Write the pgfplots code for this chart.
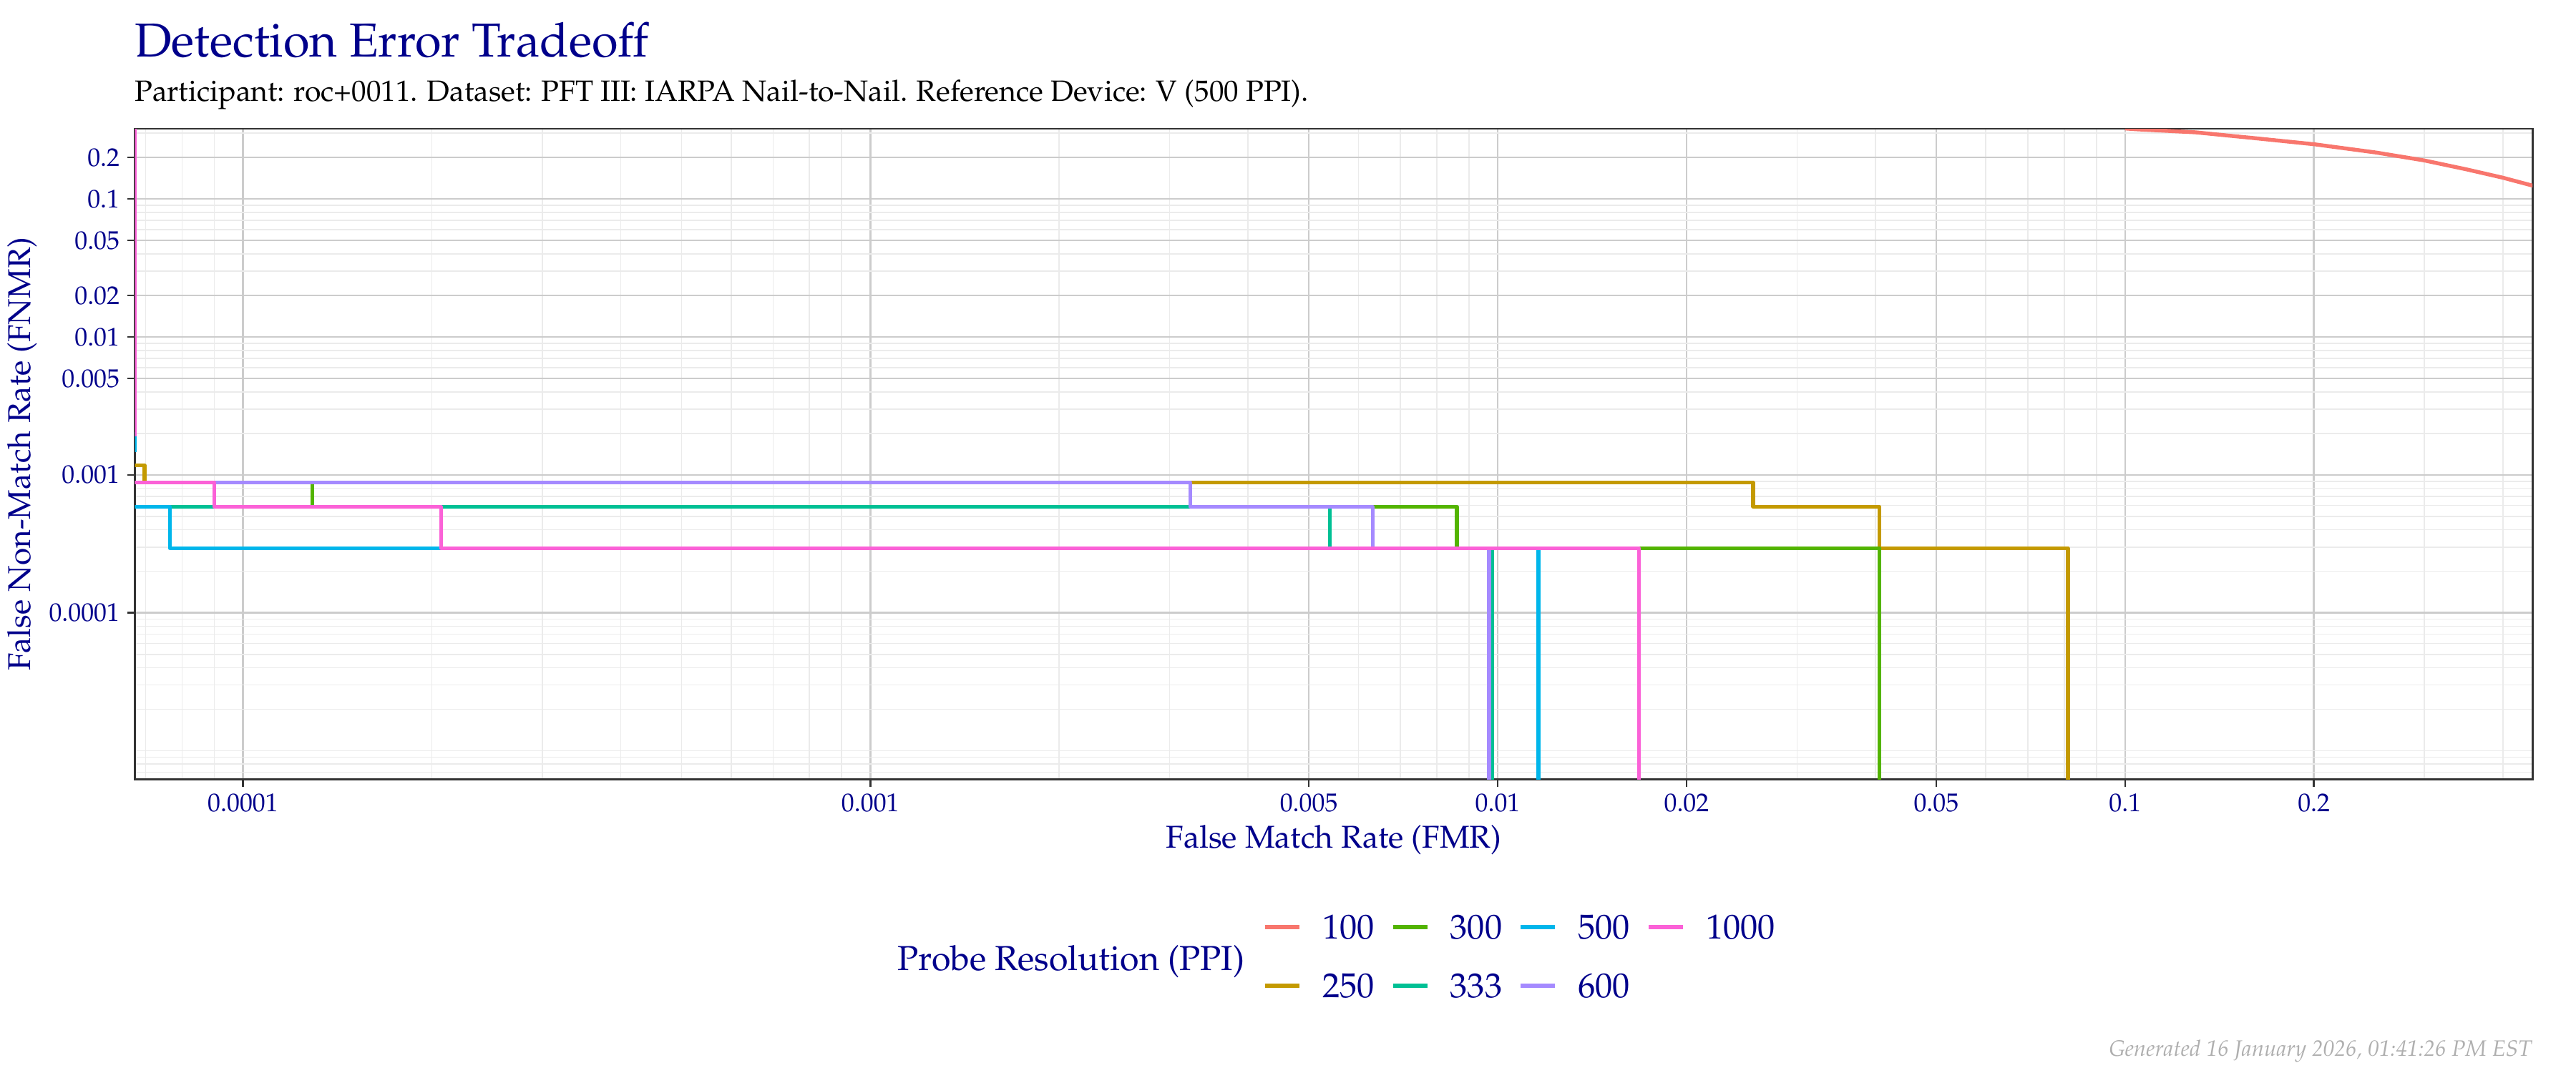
\documentclass[border=0pt]{standalone}
\usepackage[T1]{fontenc}
\usepackage{mathpazo}
\usepackage{pgfplots}
\pgfplotsset{compat=1.18}

\definecolor{c100}{HTML}{F8766D}
\definecolor{c250}{HTML}{C49A00}
\definecolor{c300}{HTML}{53B400}
\definecolor{c333}{HTML}{00C094}
\definecolor{c500}{HTML}{00B6EB}
\definecolor{c600}{HTML}{A58AFF}
\definecolor{c1000}{HTML}{FB61D7}
\definecolor{navy}{RGB}{0,0,139}
\definecolor{gridmaj}{RGB}{204,204,204}
\definecolor{gridmin}{RGB}{235,235,235}
\definecolor{frame}{RGB}{51,51,51}
\definecolor{foot}{RGB}{175,175,175}

\begin{document}
\begin{tikzpicture}
\path[use as bounding box] (0,0) rectangle (864bp,360bp);

\node[anchor=base west, inner sep=0pt, text=navy, font=\fontsize{16bp}{19bp}\selectfont]
  at (45bp,341bp) {Detection Error Tradeoff};
\node[anchor=base west, inner sep=0pt, text=black, font=\fontsize{9.85bp}{12bp}\selectfont]
  at (45bp,326bp) {Participant: roc+0011. Dataset: PFT III: IARPA Nail-to-Nail. Reference Device: V (500 PPI).};

\begin{axis}[
  at={(45.3bp,98.6bp)}, anchor=south west, scale only axis,
  width=804.1bp, height=218.2bp,
  xmode=log, ymode=log,
  xmin=6.73e-5, xmax=0.446, ymin=6.23e-6, ymax=0.323,
  xtick={1e-4,1e-3,5e-3,1e-2,2e-2,5e-2,0.1,0.2},
  xticklabels={0.0001,0.001,0.005,0.01,0.02,0.05,0.1,0.2},
  ytick={1e-4,1e-3,5e-3,1e-2,2e-2,5e-2,0.1,0.2},
  yticklabels={0.0001,0.001,0.005,0.01,0.02,0.05,0.1,0.2},
  minor xtick={7e-5,8e-5,9e-5,2e-4,3e-4,4e-4,5e-4,6e-4,7e-4,8e-4,9e-4,
    2e-3,3e-3,4e-3,6e-3,7e-3,8e-3,9e-3,3e-2,4e-2,6e-2,7e-2,8e-2,9e-2,0.3,0.4},
  minor ytick={7e-6,8e-6,9e-6,1e-5,2e-5,3e-5,4e-5,5e-5,6e-5,7e-5,8e-5,9e-5,
    2e-4,3e-4,4e-4,5e-4,6e-4,7e-4,8e-4,9e-4,2e-3,3e-3,4e-3,6e-3,7e-3,8e-3,9e-3,
    3e-2,4e-2,6e-2,7e-2,8e-2,9e-2,0.3},
  grid=both,
  major grid style={gridmaj, line width=0.6bp},
  minor grid style={gridmin, line width=0.4bp},
  tick pos=left,
  tick align=outside, major tick length=2.6bp, minor tick length=0pt,
  tick style={frame, line width=0.6bp},
  axis line style={frame, line width=0.7bp},
  ticklabel style={font=\fontsize{8.6bp}{10bp}\selectfont, text=navy, inner sep=0pt},
  xticklabel style={anchor=north, yshift=-2.2bp},
  yticklabel style={anchor=east, xshift=-2.4bp},
  xlabel={False Match Rate (FMR)},
  ylabel={False Non-Match Rate (FNMR)},
  every axis x label/.style={at={(axis description cs:0.5,-0.1063)}, anchor=base,
    font=\fontsize{10.6bp}{12bp}\selectfont, text=navy, inner sep=0pt},
  every axis y label/.style={at={(axis description cs:-0.04365,0.5)}, anchor=base, rotate=90,
    font=\fontsize{10.6bp}{12bp}\selectfont, text=navy, inner sep=0pt},
  legend style={at={(axis description cs:0.4704,-0.2086)}, anchor=north west,
    draw=none, fill=none, inner sep=0pt, outer sep=0pt,
    font=\fontsize{11.6bp}{14bp}\selectfont, text=navy,
    row sep=11.6bp,
    nodes={inner sep=0pt, text height=8.1bp, text depth=0pt},
    /tikz/every odd column/.append style={column sep=7bp},
    /tikz/every even column/.append style={column sep=5.5bp}},
  legend cell align=left,
  transpose legend, legend columns=2,
  legend image code/.code={\draw[#1, line width=1.5bp] (0bp,0bp) -- (11.5bp,0bp);},
  every axis plot/.append style={line width=1.3bp, line join=round},
]

% 100 PPI
\addplot[c100] coordinates {
  (0.1,0.3245) (0.1038,0.3205) (0.1295,0.3043) (0.1615,0.2756) (0.2003,0.2493)
  (0.2513,0.2172) (0.2998,0.1904) (0.3499,0.1641) (0.3996,0.1429) (0.4454,0.1253) (0.5,0.1089)};
\addlegendentry{100}

% 250 PPI
\addplot[c250] coordinates {
  (6.0e-5,0.001176) (6.97e-5,0.001176) (6.97e-5,0.000882) (0.02553,0.000882)
  (0.02553,0.000588) (0.0406,0.000588) (0.0406,0.000294) (0.0811,0.000294) (0.0811,1e-7)};
\addlegendentry{250}

% 300 PPI
\addplot[c300] coordinates {
  (6.0e-5,0.000882) (1.29e-4,0.000882) (1.29e-4,0.000588) (0.00861,0.000588)
  (0.00861,0.000294) (0.0406,0.000294) (0.0406,1e-7)};
\addlegendentry{300}

% 333 PPI
\addplot[c333] coordinates {
  (6.0e-5,0.000588) (0.0054,0.000588) (0.0054,0.000294) (0.00981,0.000294) (0.00981,1e-7)};
\addlegendentry{333}

% 500 PPI
\addplot[c500] coordinates {
  (6.0e-5,0.000588) (7.65e-5,0.000588) (7.65e-5,0.000294) (0.01161,0.000294) (0.01161,1e-7)};
\addlegendentry{500}
\addplot[c500, forget plot] coordinates {(6.73e-5,0.00205) (6.73e-5,0.00146)};

% 600 PPI
\addplot[c600] coordinates {
  (6.0e-5,0.000882) (0.003236,0.000882) (0.003236,0.000588) (0.00632,0.000588)
  (0.00632,0.000294) (0.00969,0.000294) (0.00969,1e-7)};
\addlegendentry{600}

% 1000 PPI
\addplot[c1000] coordinates {
  (6.0e-5,0.000882) (9.0e-5,0.000882) (9.0e-5,0.000588) (2.07e-4,0.000588)
  (2.07e-4,0.000294) (0.0168,0.000294) (0.0168,1e-7)};
\addlegendentry{1000}
\addplot[c1000, forget plot] coordinates {(6.73e-5,0.5) (6.73e-5,0.0019)};

\end{axis}

\node[anchor=base east, inner sep=0pt, text=navy, font=\fontsize{11.6bp}{14bp}\selectfont]
  at (417.6bp,34.4bp) {Probe Resolution (PPI)};
\node[anchor=base east, inner sep=0pt, text=foot, font=\fontsize{7.5bp}{9bp}\selectfont\itshape]
  at (849.4bp,5.6bp) {Generated 16 January 2026, 01:41:26 PM EST};
\end{tikzpicture}
\end{document}
